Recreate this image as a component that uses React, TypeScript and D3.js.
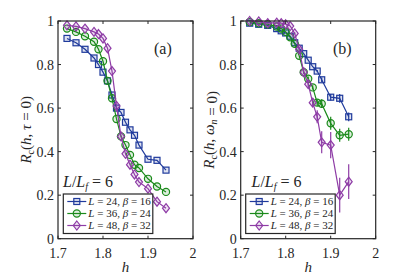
import React from "react";
import * as d3 from "d3";

const H = [1.72, 1.74, 1.76, 1.78, 1.79, 1.8, 1.81, 1.82, 1.83, 1.84, 1.85, 1.86, 1.87, 1.88, 1.9, 1.92, 1.94];

// Panel (a): R_c(h, tau = 0)
const A_L24 = [0.92, 0.9, 0.87, 0.83, 0.8, 0.765, 0.725, 0.66, 0.6, 0.58, 0.535, 0.5, 0.475, 0.43, 0.365, 0.36, 0.315];
const A_L36 = [0.965, 0.95, 0.93, 0.905, 0.87, 0.815, 0.725, 0.645, 0.55, 0.47, 0.43, 0.385, 0.34, 0.325, 0.275, 0.24, 0.215];
const A_L48 = [0.98, 0.975, 0.965, 0.95, 0.94, 0.92, 0.875, 0.77, 0.61, 0.47, 0.39, 0.34, 0.295, 0.26, 0.23, 0.17, 0.14];

// Panel (b): R_c(h, omega_n = 0) with error bars
const B_L24 = [0.99, 0.985, 0.98, 0.965, 0.955, 0.945, 0.93, 0.9, 0.875, 0.85, 0.82, 0.79, 0.77, 0.73, 0.65, 0.645, 0.56];
const B_L24_ERR = [0, 0, 0, 0, 0, 0, 0, 0, 0, 0, 0, 0, 0.005, 0.01, 0.015, 0.02, 0.02];
const B_L36 = [0.995, 0.99, 0.985, 0.975, 0.965, 0.95, 0.925, 0.895, 0.84, 0.765, 0.735, 0.695, 0.625, 0.62, 0.53, 0.475, 0.48];
const B_L36_ERR = [0, 0, 0, 0, 0, 0, 0, 0, 0, 0, 0.01, 0.01, 0.015, 0.02, 0.03, 0.03, 0.03];
const B_L48 = [1.0, 0.998, 0.99, 0.992, 0.99, 0.985, 0.977, 0.943, 0.87, 0.765, 0.71, 0.625, 0.56, 0.443, 0.43, 0.2, 0.262];
const B_L48_ERR = [0, 0, 0, 0, 0, 0, 0, 0.005, 0.01, 0.01, 0.015, 0.02, 0.03, 0.05, 0.06, 0.08, 0.08];

const X_TICKS = [1.7, 1.8, 1.9, 2];
const X_TICK_LABELS = ["1.7", "1.8", "1.9", "2"];
const Y_TICKS = [0, 0.2, 0.4, 0.6, 0.8, 1];
const Y_TICK_LABELS = ["0", "0.2", "0.4", "0.6", "0.8", "1"];

const SERIES_NAMES = [
  { L: "24", b: "16" },
  { L: "36", b: "24" },
  { L: "48", b: "32" },
];
const COLORS = ["#1f3a9c", "#1b8a1b", "#8e3ca6"];
const MARKERS = ["square", "circle", "diamond"];

const FONT = '"Liberation Serif", "Times New Roman", Tinos, "DejaVu Serif", "Noto Serif", serif';
const fs = (size: number, italic = false): any => ({
  style: { fontFamily: FONT, fontSize: size + "px", fontStyle: italic ? "italic" : "normal" },
});

function Marker({ type, x, y, color }: { type: string; x: number; y: number; color: string }) {
  const common = { stroke: color, strokeWidth: 1.2, fill: color, fillOpacity: 0.15 } as any;
  if (type === "square") return <rect x={x - 3} y={y - 3} width={6} height={6} {...common} />;
  if (type === "circle") return <circle cx={x} cy={y} r={3.6} {...common} />;
  return <path d={`M${x},${y - 4.5}L${x + 3.5},${y}L${x},${y + 4.5}L${x - 3.5},${y}Z`} {...common} />;
}

function Panel({
  left,
  right,
  top,
  bottom,
  series,
  errors,
  label,
  labelX,
  yLabelSub,
  yLabelX,
  lfX,
  legendX,
}: any) {
  const x = d3.scaleLinear().domain([1.7, 2]).range([left, right]);
  const y = d3.scaleLinear().domain([0, 1]).range([bottom, top]);
  const line = d3
    .line<number>()
    .x((_, i) => x(H[i]))
    .y((d) => y(d));
  const tick = 3;
  const legW = 89.5;
  const legTop = 194;
  const legH = 39.5;
  return (
    <g>
      {series.map((s: number[], k: number) => (
        <g key={k}>
          {errors &&
            s.map((v, i) =>
              errors[k][i] > 0 ? (
                <line
                  key={i}
                  x1={x(H[i])}
                  x2={x(H[i])}
                  y1={y(v - errors[k][i])}
                  y2={y(v + errors[k][i])}
                  stroke={COLORS[k]}
                  strokeWidth={1.2}
                />
              ) : null
            )}
          <path d={line(s) || ""} fill="none" stroke={COLORS[k]} strokeWidth={1.2} />
          {s.map((v, i) => (
            <Marker key={i} type={MARKERS[k]} x={x(H[i])} y={y(v)} color={COLORS[k]} />
          ))}
        </g>
      ))}
      <rect x={left} y={top} width={right - left} height={bottom - top} fill="none" stroke="#262626" strokeWidth={1.2} />
      {X_TICKS.map((t, i) => (
        <g key={"x" + i}>
          <line x1={x(t)} x2={x(t)} y1={bottom} y2={bottom - tick} stroke="#262626" strokeWidth={1} />
          <line x1={x(t)} x2={x(t)} y1={top} y2={top + tick} stroke="#262626" strokeWidth={1} />
          <text x={x(t)} y={bottom + 19} textAnchor="middle" fill="#262626" {...fs(14)}>
            {X_TICK_LABELS[i]}
          </text>
        </g>
      ))}
      {Y_TICKS.map((t, i) => (
        <g key={"y" + i}>
          <line x1={left} x2={left + tick} y1={y(t)} y2={y(t)} stroke="#262626" strokeWidth={1} />
          <line x1={right} x2={right - tick} y1={y(t)} y2={y(t)} stroke="#262626" strokeWidth={1} />
          <text x={left - 4} y={y(t) + 5} textAnchor="end" fill="#262626" {...fs(14)}>
            {Y_TICK_LABELS[i]}
          </text>
        </g>
      ))}
      <text x={(left + right) / 2} y={bottom + 33} textAnchor="middle" fill="#262626" {...fs(15, true)}>
        h
      </text>
      <text
        transform={`translate(${yLabelX},${(top + bottom) / 2}) rotate(-90)`}
        textAnchor="middle"
        fill="#262626"
        {...fs(15)}
      >
        <tspan {...fs(15, true)}>R</tspan>
        <tspan {...fs(10)} dy={3}>c</tspan>
        <tspan dy={-3}>(</tspan>
        <tspan {...fs(15, true)}>h</tspan>
        <tspan>, </tspan>
        {yLabelSub}
        <tspan> = 0)</tspan>
      </text>
      <text x={labelX} y={top + 33} fill="#262626" {...fs(16)}>
        {label}
      </text>
      <text x={lfX} y={187} fill="#262626" {...fs(16)}>
        <tspan {...fs(16, true)}>L</tspan>
        <tspan>/</tspan>
        <tspan {...fs(16, true)}>L</tspan>
        <tspan {...fs(10, true)} dy={3}>f</tspan>
        <tspan dy={-3}> = 6</tspan>
      </text>
      <rect x={legendX} y={legTop} width={legW} height={legH} fill="#fff" stroke="#262626" strokeWidth={1.2} />
      {SERIES_NAMES.map((n, k) => {
        const yy = legTop + 7.5 + k * 12;
        return (
          <g key={"l" + k}>
            <line x1={legendX + 4} x2={legendX + 23} y1={yy} y2={yy} stroke={COLORS[k]} strokeWidth={1.2} />
            <Marker type={MARKERS[k]} x={legendX + 13.5} y={yy} color={COLORS[k]} />
            <text x={legendX + 25} y={yy + 3.5} fill="#262626" {...fs(11)}>
              <tspan {...fs(11, true)}>L</tspan>
              <tspan>{` = ${n.L}, `}</tspan>
              <tspan {...fs(11, true)}>β</tspan>
              <tspan>{` = ${n.b}`}</tspan>
            </text>
          </g>
        );
      })}
    </g>
  );
}

export default function App() {
  return (
    <svg width={415} height={277} style={{ position: "absolute", left: 0, top: 0, background: "#fff" }}>
      <Panel
        left={58}
        right={193}
        top={21}
        bottom={238.7}
        series={[A_L24, A_L36, A_L48]}
        errors={null}
        label="(a)"
        labelX={154}
        yLabelSub={<tspan {...fs(15, true)}>τ</tspan>}
        yLabelX={31}
        lfX={63}
        legendX={63.3}
      />
      <Panel
        left={240.7}
        right={375.7}
        top={21}
        bottom={238.7}
        series={[B_L24, B_L36, B_L48]}
        errors={[B_L24_ERR, B_L36_ERR, B_L48_ERR]}
        label="(b)"
        labelX={333}
        yLabelSub={
          <>
            <tspan {...fs(15, true)}>ω</tspan>
            <tspan {...fs(10, true)} dy={3}>n</tspan>
            <tspan dy={-3}></tspan>
          </>
        }
        yLabelX={214}
        lfX={251.5}
        legendX={245.7}
      />
    </svg>
  );
}
